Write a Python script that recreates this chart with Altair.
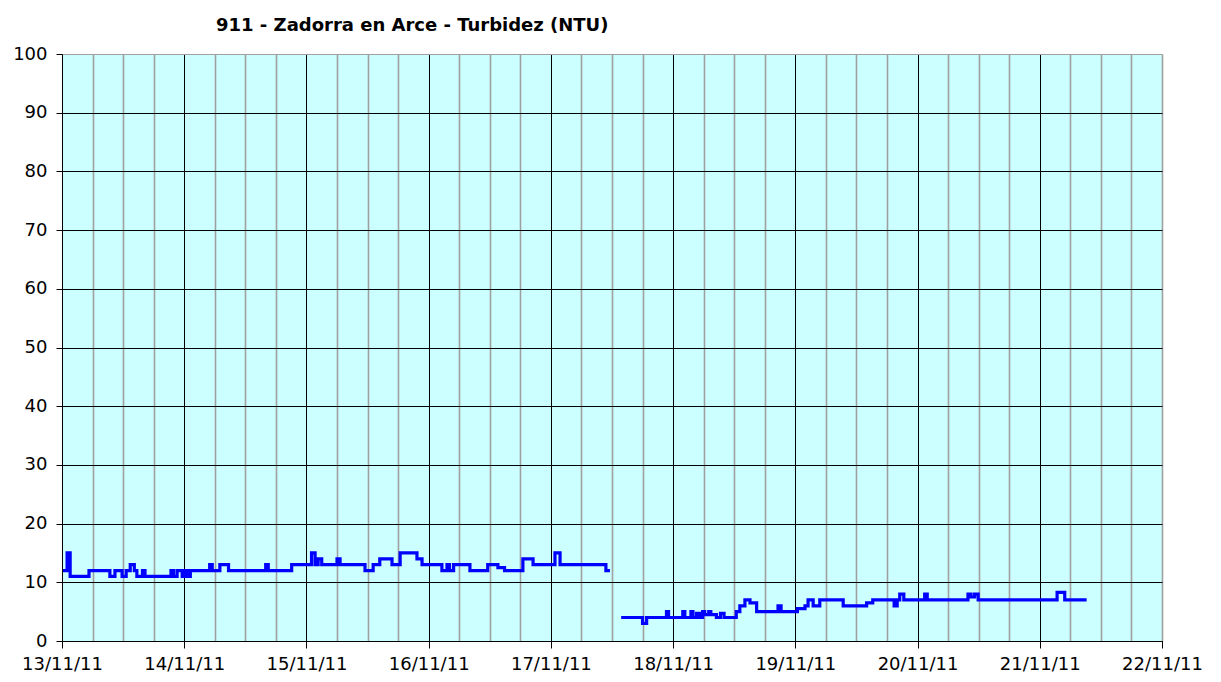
import altair as alt
import pandas as pd

# Hours since 13/11/11 00:00 where the turbidity reading changes (step series), and NTU values
seg1_hours = [0.2, 1.0, 1.6, 5.3, 9.4, 10.4, 11.8, 12.6, 13.4, 14.2, 14.7, 15.8, 16.3,
              21.4, 21.9, 22.6, 23.6, 24.2, 24.6, 25.2, 29.0, 29.5, 31.0, 32.7, 40.0,
              40.5, 45.1, 49.0, 49.7, 50.3, 51.0, 54.0, 54.6, 59.5, 61.1, 62.4, 64.8,
              66.4, 69.7, 70.7, 74.6, 75.6, 76.1, 76.9, 80.1, 83.6, 85.6, 86.9, 90.5,
              92.5, 96.8, 97.8, 106.8, 107.6]
seg1_ntu = [12, 15, 11, 12, 11, 12, 11, 12, 13, 12, 11, 12, 11,
            12, 11, 12, 11, 12, 11, 12, 13, 12, 13, 12, 13,
            12, 13, 15, 13, 14, 13, 14, 13, 12, 13, 14, 13,
            15, 14, 13, 12, 13, 12, 13, 12, 13, 12.5, 12, 14,
            13, 15, 13, 12, 12]

seg2_hours = [109.8, 114.0, 114.8, 118.7, 119.1, 121.9, 122.3, 123.5, 123.9, 124.6,
              125.2, 125.8, 126.2, 127.0, 127.4, 128.5, 129.3, 130.0, 132.4, 133.1,
              134.1, 135.1, 136.4, 140.6, 141.2, 144.4, 145.9, 146.5, 147.5, 148.8,
              153.4, 158.0, 159.2, 163.4, 164.0, 164.5, 165.3, 169.4, 169.9, 177.9,
              178.5, 179.2, 179.9, 195.4, 196.9, 201.2]
seg2_ntu = [4, 3, 4, 5, 4, 5, 4, 5, 4, 4.7,
            4, 5, 4.5, 5, 4.5, 4, 4.7, 4, 5, 6,
            7, 6.5, 5, 6, 5, 5.5, 6, 7, 6, 7,
            6, 6.5, 7, 6, 7, 8, 7, 8, 7, 8,
            7.5, 8, 7, 8.3, 7, 7]

x_ticks = list(range(0, 217, 6))          # every 6 hours, 13/11/11 .. 22/11/11
y_ticks = list(range(0, 101, 10))

title_text = "911 - Zadorra en Arce - Turbidez (NTU)"

df = pd.DataFrame({
    "h": seg1_hours + seg2_hours,
    "ntu": seg1_ntu + seg2_ntu,
    "seg": ["a"] * len(seg1_hours) + ["b"] * len(seg2_hours),
})

FONT = "DejaVu Sans"
MAJOR = "datum.value % 24 == 0 && datum.value < 216"

x_axis = alt.Axis(
    values=x_ticks,
    grid=True,
    gridColor={"condition": {"test": MAJOR, "value": "#000000"}, "value": "#A0A0A0"},
    gridWidth={"condition": {"test": MAJOR, "value": 1}, "value": 1.6},
    gridOpacity=1,
    tickOpacity={"condition": {"test": "datum.value % 24 == 0", "value": 1}, "value": 0},
    tickColor="#000000",
    tickSize=7,
    domainColor="#000000",
    domainWidth=1,
    labelExpr="datum.value % 24 == 0 ? timeFormat(datetime(2011, 10, 13 + datum.value / 24), '%d/%m/%y') : ''",
    labelFont=FONT,
    labelFontSize=18,
    labelColor="#000000",
    labelPadding=7,
    labelFlush=False,
    labelOverlap=False,
    labelBound=False,
    title=None,
)

y_axis = alt.Axis(
    values=y_ticks,
    grid=True,
    gridColor={"condition": {"test": "datum.value == 100", "value": "#A0A0A0"}, "value": "#000000"},
    gridWidth=1,
    gridOpacity=1,
    tickColor="#000000",
    tickSize=6,
    domainColor="#000000",
    domainWidth=1,
    labelFont=FONT,
    labelFontSize=18,
    labelColor="#000000",
    labelPadding=9,
    labelFlush=False,
    labelOverlap=False,
    title=None,
)

chart = alt.Chart(df).mark_line(
    color="#0000FF", strokeWidth=3.2, interpolate="step-after", strokeJoin="miter"
).encode(
    x=alt.X("h:Q", scale=alt.Scale(domain=[0, 216], nice=False, zero=False), axis=x_axis),
    y=alt.Y("ntu:Q", scale=alt.Scale(domain=[0, 100], nice=False), axis=y_axis),
    detail="seg:N",
).properties(
    width=1100,
    height=587,
    autosize=alt.AutoSizeParams(type="none"),
    padding={"left": 54, "top": 46, "right": 51, "bottom": 35},
    background="#FFFFFF",
    title=alt.TitleParams(
        text=title_text,
        anchor="start",
        frame="group",
        dx=154,
        font=FONT,
        fontSize=18,
        fontWeight="bold",
        color="#000000",
        offset=10,
    ),
).configure_view(
    fill="#CCFFFF",
    stroke="transparent",
)

chart.save("out.html", embed_options={"renderer": "svg", "actions": False})
